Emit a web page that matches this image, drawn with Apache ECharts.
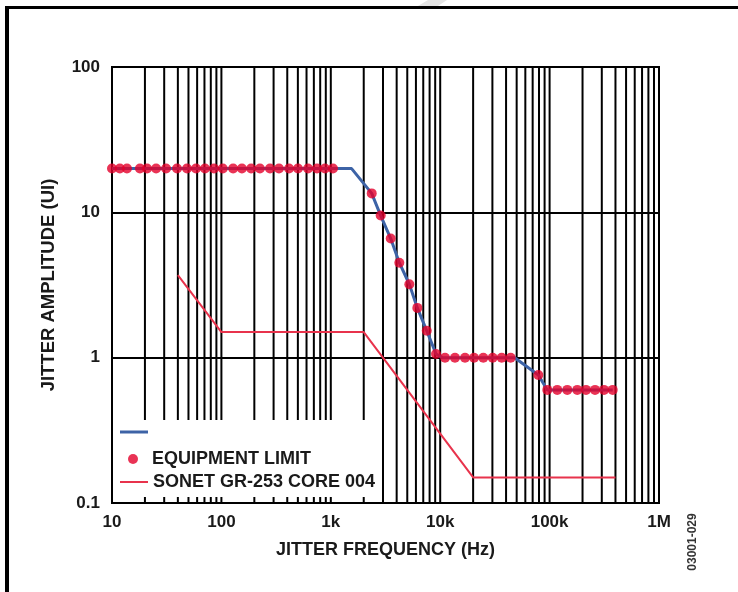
<!DOCTYPE html>
<html><head><meta charset="utf-8">
<script src="https://cdn.jsdelivr.net/npm/echarts@6/dist/echarts.min.js"></script>
<style>html,body{margin:0;padding:0;background:#fff}#c{width:738px;height:592px}</style>
</head><body><div id="c"></div>
<script>
// ---- data ----
const xTickLabels = ['10', '100', '1k', '10k', '100k', '1M'];
const yTickLabels = ['0.1', '1', '10', '100'];
const gridFreqs = [20,30,40,50,60,70,80,90,100,200,300,400,500,600,700,800,900,1000,
  2000,3000,4000,5000,6000,7000,8000,9000,10000,20000,30000,40000,50000,60000,70000,80000,90000,
  100000,200000,300000,400000,500000,600000,700000,800000,900000];
// blue trace
const traceFreq = [10, 1550, 2366, 2858, 3529, 4229, 5222, 6180, 7536, 9162, 10500, 48000, 78860, 95300, 377500];
const traceAmp  = [20, 20, 13.5, 9.5, 6.6, 4.5, 3.2, 2.2, 1.53, 1.06, 1.0, 1.0, 0.76, 0.6, 0.6];
// equipment limit (red dots)
const limitFreq = [10, 11.8, 13.7, 18, 20.9, 25.3, 31.2, 39.3, 48.5, 58.6, 70.8, 85.6, 103, 128, 154, 187, 225, 278, 336, 415, 501, 619, 748, 885, 1047,
  2366, 2858, 3529, 4229, 5222, 6180, 7536, 9162,
  11070, 13650, 16860, 20380, 24780, 30190, 36490, 44060,
  78860,
  95300, 117500, 145100, 179100, 215200, 260200, 314300, 377500];
const limitAmp = [20,20,20,20,20,20,20,20,20,20,20,20,20,20,20,20,20,20,20,20,20,20,20,20,20,
  13.5, 9.5, 6.6, 4.5, 3.2, 2.2, 1.53, 1.06,
  1,1,1,1,1,1,1,1,
  0.76,
  0.6,0.6,0.6,0.6,0.6,0.6,0.6,0.6];
// SONET mask
const sonetFreq = [40, 100, 2000, 20000, 400000];
const sonetAmp  = [3.7, 1.5, 1.5, 0.15, 0.15];

const zip = (a, b) => a.map((v, i) => [v, b[i]]);
const FONT = '"Liberation Sans", Arial, sans-serif';
const legendText = {fontFamily: FONT, fontWeight: 'bold', fontSize: 18, color: '#1a1a1a'};

const chart = echarts.init(document.getElementById('c'), null, {renderer: 'canvas'});
chart.setOption({
  animation: false,
  backgroundColor: '#fff',
  grid: {left: 112, right: 79, top: 67, bottom: 89, show: true, borderColor: '#000', borderWidth: 2, backgroundColor: 'transparent'},
  xAxis: {
    type: 'log', logBase: 10, min: 10, max: 1000000,
    name: 'JITTER FREQUENCY (Hz)', nameLocation: 'middle', nameGap: 38,
    nameTextStyle: {fontFamily: FONT, fontWeight: 'bold', fontSize: 18, color: '#1a1a1a'},
    axisLine: {show: true, lineStyle: {color: '#000', width: 2}},
    axisTick: {show: false},
    splitLine: {show: false},
    minorTick: {show: false}, minorSplitLine: {show: false},
    axisLabel: {fontFamily: FONT, fontWeight: 'bold', fontSize: 17, color: '#1a1a1a', margin: 11,
      formatter: v => xTickLabels[Math.round(Math.log10(v)) - 1]}
  },
  yAxis: {
    type: 'log', logBase: 10, min: 0.1, max: 100,
    name: 'JITTER AMPLITUDE (UI)', nameLocation: 'middle', nameGap: 54, nameRotate: 90,
    nameTextStyle: {fontFamily: FONT, fontWeight: 'bold', fontSize: 18.5, color: '#1a1a1a'},
    axisLine: {show: true, lineStyle: {color: '#000', width: 2}},
    axisTick: {show: false},
    splitLine: {show: true, lineStyle: {color: '#000', width: 2}},
    axisLabel: {fontFamily: FONT, fontWeight: 'bold', fontSize: 17, color: '#1a1a1a', margin: 12,
      formatter: v => yTickLabels[Math.round(Math.log10(v)) + 1]}
  },
  legend: [
    {data: [{name: ' ', icon: 'rect'}], left: 120, top: 423, padding: 0, itemWidth: 28, itemHeight: 3, z: 20,
      textStyle: legendText, selectedMode: false},
    {data: [{name: 'EQUIPMENT LIMIT', icon: 'circle'}], left: 128, top: 450, padding: 0, itemWidth: 28, itemHeight: 10, z: 20,
      textStyle: legendText, selectedMode: false},
    {data: [{name: 'SONET GR-253 CORE 004', icon: 'rect'}], left: 120, top: 473, padding: 0, itemWidth: 28, itemHeight: 2, z: 20,
      textStyle: legendText, selectedMode: false}
  ],
  graphic: [
    {type: 'rect', z: 3, silent: true, shape: {x: 114, y: 420, width: 258, height: 77}, style: {fill: '#fff'}},
    {type: 'rect', z: 30, silent: true, shape: {x: 5, y: 6, width: 733, height: 3}, style: {fill: '#000'}},
    {type: 'rect', z: 30, silent: true, shape: {x: 5, y: 6, width: 4, height: 586}, style: {fill: '#000'}},
    {type: 'polygon', z: 30, silent: true, shape: {points: [[428, 0], [447, 0], [438, 6], [418, 6]]}, style: {fill: '#e4e4e4'}},
    {type: 'text', z: 30, silent: true, x: 693, y: 542, rotation: Math.PI / 2,
      style: {text: '03001-029', fontFamily: FONT, fontWeight: 'bold', fontSize: 12, fill: '#333', align: 'center', verticalAlign: 'middle'}}
  ],
  series: [
    {type: 'custom', name: 'grid', z: 1, silent: true, legendHoverLink: false,
      data: gridFreqs.map(f => [f, 1]),
      renderItem: (params, api) => {
        const f = api.value(0);
        const p1 = api.coord([f, 100]);
        const p2 = api.coord([f, 0.1]);
        return {type: 'line', shape: {x1: p1[0], y1: p1[1], x2: p2[0], y2: p2[1]}, style: {stroke: '#000', lineWidth: 2}};
      }},
    {type: 'line', name: ' ', z: 5, data: zip(traceFreq, traceAmp), symbol: 'none',
      lineStyle: {color: '#3d63a6', width: 3}, itemStyle: {color: '#3d63a6'}},
    {type: 'scatter', name: 'EQUIPMENT LIMIT', z: 6, data: zip(limitFreq, limitAmp), symbol: 'circle', symbolSize: 10,
      itemStyle: {color: '#e3002b'}},
    {type: 'line', name: 'SONET GR-253 CORE 004', z: 5, data: zip(sonetFreq, sonetAmp), symbol: 'none',
      lineStyle: {color: '#e8334c', width: 2}, itemStyle: {color: '#e8334c'}}
  ]
});
</script></body></html>
